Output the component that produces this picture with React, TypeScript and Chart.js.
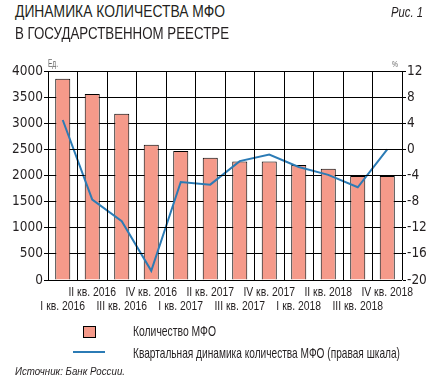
import React, { useEffect, useRef, useState } from "react";
import { Chart, registerables } from "chart.js";

Chart.register(...registerables);

const categories: string[] = [
  "I кв. 2016",
  "II кв. 2016",
  "III кв. 2016",
  "IV кв. 2016",
  "I кв. 2017",
  "II кв. 2017",
  "III кв. 2017",
  "IV кв. 2017",
  "I кв. 2018",
  "II кв. 2018",
  "III кв. 2018",
  "IV кв. 2018",
];

const mfoCount: number[] = [3850, 3560, 3180, 2590, 2470, 2340, 2270, 2270, 2200, 2130, 1990, 1990];
const quarterlyChange: number[] = [4.5, -7.7, -11.0, -18.6, -5.0, -5.4, -1.8, -0.8, -2.7, -3.9, -5.8, 0.0];

const leftTicks = { min: 0, max: 4000, step: 500 };
const rightTicks = { min: -20, max: 12, step: 4 };

const SANS = '"Liberation Sans", Arial, sans-serif';
const COND = '"DejaVu Sans Condensed", "Liberation Sans", sans-serif';
const BAR_COLOR = "#F59A8A";
const LINE_COLOR = "#2B7BB5";
const TEXT = "#231F20";
const SQUEEZE = 0.8;
const CANVAS_TOP = 55;

type Seg = { x1: number; x2: number; y1: number; y2: number };

// Category labels in two staggered rows, horizontally condensed
const xLabelPlugin = {
  id: "xLabels",
  afterDraw(chart: any) {
    const x = chart.scales.x;
    const ctx = chart.ctx;
    ctx.save();
    ctx.fillStyle = TEXT;
    ctx.font = `13px ${SANS}`;
    ctx.textAlign = "center";
    ctx.textBaseline = "middle";
    const labels = chart.data.labels as string[];
    labels.forEach((lab, i) => {
      const px = x.getPixelForTick(i);
      const py = i % 2 === 1 ? x.top + 12 : x.top + 26;
      ctx.save();
      ctx.translate(px, py);
      ctx.scale(SQUEEZE, 1);
      ctx.fillText(lab, 0, 0);
      ctx.restore();
    });
    ctx.restore();
  },
};

// Grid segments computed from the chart's scales, leaving gaps where bars stand
function gridFromChart(chart: any): Seg[] {
  const area = chart.chartArea;
  const x = chart.scales.x;
  const y = chart.scales.y;
  const bars = chart.getDatasetMeta(1).data.map((el: any) => el.getProps(["x", "y", "base", "width"], true));
  const segs: Seg[] = [];
  y.ticks.forEach((t: any) => {
    const py = Math.round(y.getPixelForValue(t.value) - 0.5) + 0.5;
    let start = area.left;
    bars.forEach((b: any) => {
      const l = b.x - b.width / 2 - 0.5;
      const r = b.x + b.width / 2 + 0.5;
      if (py >= b.y - 0.5 && py <= b.base + 0.5) {
        if (l > start) segs.push({ x1: start, x2: l, y1: py, y2: py });
        start = r;
      }
    });
    if (area.right > start) segs.push({ x1: start, x2: area.right, y1: py, y2: py });
  });
  const n = chart.data.labels.length;
  for (let i = 0; i <= n; i++) {
    const px = Math.round(x.getPixelForValue(i - 0.5) - 0.5) + 0.5;
    segs.push({ x1: px, x2: px, y1: area.top, y2: area.bottom });
  }
  return segs;
}

function Label(props: {
  x: number;
  baseline: number;
  size: number;
  len: number;
  text: string;
  italic?: boolean;
  color?: string;
}) {
  const h = Math.ceil(props.size * 1.4);
  return (
    <svg
      width={props.len + 4}
      height={h}
      style={{ position: "absolute", left: props.x, top: props.baseline - Math.round(props.size * 1.05), overflow: "visible" }}
    >
      <text
        x={0}
        y={Math.round(props.size * 1.05)}
        fontFamily={SANS}
        fontSize={props.size}
        fontStyle={props.italic ? "italic" : "normal"}
        fill={props.color || TEXT}
        textLength={props.len}
        lengthAdjust="spacingAndGlyphs"
      >
        {props.text}
      </text>
    </svg>
  );
}

export default function App() {
  const ref = useRef<HTMLCanvasElement | null>(null);
  const [grid, setGrid] = useState<Seg[]>([]);

  useEffect(() => {
    if (!ref.current) return;
    const chart = new Chart(ref.current, {
      type: "bar",
      data: {
        labels: categories,
        datasets: [
          {
            type: "line",
            label: "Квартальная динамика количества МФО (правая шкала)",
            data: quarterlyChange,
            yAxisID: "y1",
            borderColor: LINE_COLOR,
            borderWidth: 2,
            pointRadius: 0,
            tension: 0,
            order: 0,
          } as any,
          {
            type: "bar",
            label: "Количество МФО",
            data: mfoCount,
            yAxisID: "y",
            backgroundColor: BAR_COLOR,
            borderColor: "#000",
            borderWidth: 1,
            categoryPercentage: 1,
            barPercentage: 0.51,
            order: 1,
          },
        ],
      },
      options: {
        animation: false,
        responsive: false,
        layout: { padding: { top: 16 } },
        plugins: { legend: { display: false }, tooltip: { enabled: false } },
        scales: {
          x: {
            offset: true,
            grid: { color: "#000", offset: true, drawTicks: false },
            ticks: { display: false, autoSkip: false, maxRotation: 0, minRotation: 0 },
            afterFit: (s: any) => {
              s.height = 35;
            },
          },
          y: {
            position: "left",
            min: leftTicks.min,
            max: leftTicks.max,
            grid: { color: "#000", tickLength: 4 },
            ticks: {
              stepSize: leftTicks.step,
              padding: 1,
              color: TEXT,
              font: { family: COND, size: 13.5 },
              callback: (v: any) => String(v),
            },
            afterFit: (s: any) => {
              s.width = 48;
            },
          },
          y1: {
            position: "right",
            min: rightTicks.min,
            max: rightTicks.max,
            grid: { color: "#000", tickLength: 4, drawOnChartArea: false },
            ticks: {
              stepSize: rightTicks.step,
              padding: 1,
              color: TEXT,
              font: { family: COND, size: 13.5 },
              callback: (v: any) => String(v),
            },
            afterFit: (s: any) => {
              s.width = 30;
            },
          },
        },
      },
      plugins: [xLabelPlugin],
    });
    setGrid(gridFromChart(chart));
    return () => chart.destroy();
  }, []);

  return (
    <div style={{ position: "absolute", left: 0, top: 0, width: 432, height: 392 }}>
      <canvas
        ref={ref}
        width={432}
        height={260}
        style={{ position: "absolute", left: 0, top: CANVAS_TOP, width: 432, height: 260 }}
      />
      <svg
        width={432}
        height={260}
        shapeRendering="crispEdges"
        style={{ position: "absolute", left: 0, top: CANVAS_TOP, pointerEvents: "none" }}
      >
        {grid.map((s, i) => (
          <line key={i} x1={s.x1} y1={s.y1} x2={s.x2} y2={s.y2} stroke="#000" strokeWidth={1} />
        ))}
      </svg>
      <Label x={15} baseline={17} size={16.5} len={210} text="ДИНАМИКА КОЛИЧЕСТВА МФО" />
      <Label x={15} baseline={39} size={16.5} len={214} text="В ГОСУДАРСТВЕННОМ РЕЕСТРЕ" />
      <Label x={391} baseline={17} size={14} len={32} italic text="Рис. 1" />
      <Label x={48} baseline={67} size={10} len={10} color="#666" text="Ед." />
      <Label x={392} baseline={67} size={9} len={6} color="#666" text="%" />
      <div style={{ position: "absolute", left: 83, top: 326, width: 11, height: 10, background: BAR_COLOR, border: "1px solid #000" }} />
      <Label x={133} baseline={336} size={14.5} len={83} text="Количество МФО" />
      <div style={{ position: "absolute", left: 73, top: 351, width: 32, height: 2, background: LINE_COLOR }} />
      <Label x={133} baseline={358} size={14.5} len={267} text="Квартальная динамика количества МФО (правая шкала)" />
      <Label x={15} baseline={375} size={11.5} len={110} italic text="Источник: Банк России." />
    </div>
  );
}
